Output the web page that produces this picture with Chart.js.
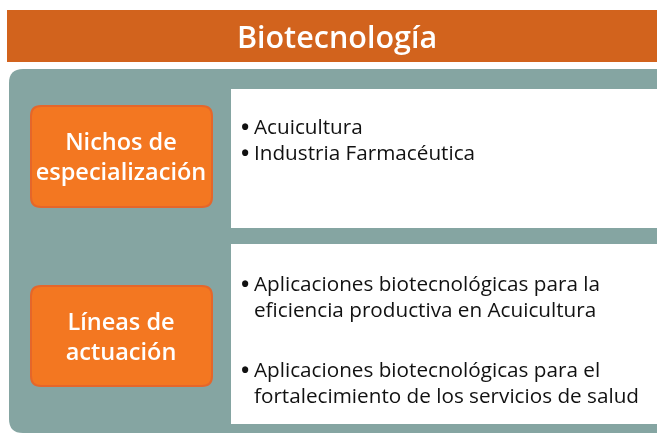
<!DOCTYPE html>
<html><head><meta charset="utf-8">
<script src="https://cdn.jsdelivr.net/npm/chart.js@4"></script>
<style>
html,body{margin:0;padding:0;background:#fff;}
#wrap{position:relative;width:657px;height:434px;overflow:hidden;font-family:"Open Sans",Lato,sans-serif;}
#c{position:absolute;left:0;top:0;}
.t{position:absolute;white-space:nowrap;}
#title{left:7px;top:10px;width:660px;height:52px;line-height:52px;text-align:center;color:#fff;font-weight:600;font-size:30.5px;}
.lab{position:absolute;left:30px;width:182px;text-align:center;color:#fff;font-weight:600;font-size:23.5px;line-height:30px;display:flex;align-items:center;justify-content:center;white-space:nowrap;}
.items{position:absolute;left:241px;color:#111;font-size:20.7px;line-height:26px;white-space:nowrap;}
.items div{padding-left:13px;position:relative;}
.items div span.b{position:absolute;left:0;top:0;font-weight:bold;font-size:22px;}
</style></head>
<body><div id="wrap"><canvas id="c" width="657" height="434"></canvas>
<div id="title" class="t"></div>
<div id="lab0" class="lab" style="top:105px;height:102px"></div>
<div id="lab1" class="lab" style="top:285px;height:101px"></div>
<div id="it0" class="items" style="top:113px"></div>
<div id="it1" class="items" style="top:270px"></div>
</div>
<script>
const title = "Biotecnología";
const categories = ["Nichos de<br>especialización", "Líneas de<br>actuación"];
const items0 = ["Acuicultura", "Industria Farmacéutica"];
const items1 = ["Aplicaciones biotecnológicas para la<br>eficiencia productiva en Acuicultura", "Aplicaciones biotecnológicas para el<br>fortalecimiento de los servicios de salud"];

document.getElementById('title').textContent = title;
document.getElementById('lab0').innerHTML = categories[0];
document.getElementById('lab1').innerHTML = categories[1];
document.getElementById('it0').innerHTML = items0.map(s => '<div><span class="b">•</span>' + s + '</div>').join('');
document.getElementById('it1').innerHTML = items1.map(s => '<div style="margin-bottom:34px"><span class="b">•</span>' + s + '</div>').join('');

function rr(ctx, x, y, w, h, r) {
  ctx.beginPath();
  ctx.moveTo(x + r, y);
  ctx.lineTo(x + w - r, y); ctx.quadraticCurveTo(x + w, y, x + w, y + r);
  ctx.lineTo(x + w, y + h - r); ctx.quadraticCurveTo(x + w, y + h, x + w - r, y + h);
  ctx.lineTo(x + r, y + h); ctx.quadraticCurveTo(x, y + h, x, y + h - r);
  ctx.lineTo(x, y + r); ctx.quadraticCurveTo(x, y, x + r, y);
  ctx.closePath();
}
const diagram = {
  id: 'diagram',
  beforeDraw(chart) {
    const ctx = chart.ctx;
    ctx.save();
    ctx.fillStyle = '#D2631D';
    ctx.fillRect(7, 10, 660, 52);
    ctx.fillStyle = '#85A5A2';
    rr(ctx, 9, 69, 670, 364, 14); ctx.fill();
    ctx.fillStyle = '#fff';
    ctx.fillRect(231, 89, 440, 139);
    ctx.fillRect(231, 244, 440, 180);
    ctx.fillStyle = '#F37721';
    ctx.strokeStyle = '#E5662A';
    ctx.lineWidth = 2;
    rr(ctx, 31, 106, 181, 101, 10); ctx.fill(); ctx.stroke();
    rr(ctx, 31, 286, 181, 100, 10); ctx.fill(); ctx.stroke();
    ctx.restore();
  }
};
new Chart(document.getElementById('c'), {
  type: 'bar',
  data: { labels: [], datasets: [] },
  options: {
    responsive: false, animation: false,
    plugins: { legend: { display: false }, tooltip: { enabled: false } },
    scales: { x: { display: false }, y: { display: false } }
  },
  plugins: [diagram]
});
</script></body></html>
